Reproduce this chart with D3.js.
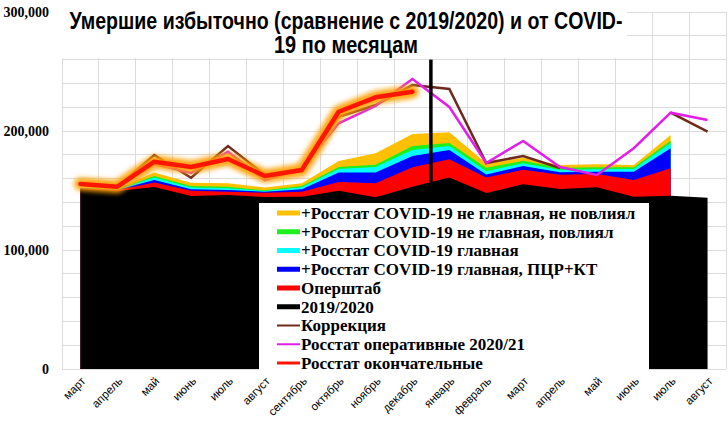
<!DOCTYPE html>
<html><head><meta charset="utf-8">
<script src="https://cdn.jsdelivr.net/npm/d3@7/dist/d3.min.js"></script>
<style>
html,body{margin:0;padding:0;background:#fff;}
svg{display:block;}
</style></head>
<body>
<svg id="chart" width="728" height="425"></svg>
<script>
// ---- data ----
const months = ["март","апрель","май","июнь","июль","август","сентябрь","октябрь","ноябрь","декабрь","январь","февраль","март","апрель","май","июнь","июль","август"];
const yTicks = [0, 100000, 200000, 300000];
const base2019 = [151300,149600,152900,145400,146200,144500,144800,149800,144300,153200,160900,147900,155200,151300,152700,144800,145600,143900];
const opershtab = [400,700,3800,4400,2800,3600,4200,7300,11700,16300,15400,13000,12300,12000,11200,14000,23000,null];
const pcrKt = [100,300,2100,1200,1400,900,2000,8000,9100,9500,7700,2500,3100,2000,1900,7000,16900,null];
const glavnaya = [100,300,2100,1500,1400,600,1700,3000,4600,5000,3400,2800,2300,1900,2000,2300,4200,null];
const povliyal = [100,300,1300,1300,1400,600,1100,1600,2000,3400,2500,2900,2100,1900,1700,1400,2100,null];
const nePovliyal = [200,400,2900,2700,2800,2300,2200,5100,9600,10100,9100,3800,2500,2300,2500,1900,4800,null];
const korrekciya = [155500,152900,179800,160700,187400,163000,168100,212000,221800,238600,235300,173100,179000,168900,null,null,215400,199400];
const operativnye = [155500,152900,172300,164700,182600,158800,168100,206500,221000,243700,220200,173100,191600,169700,163000,185500,215400,209200];
const okonchatelnye = [155500,153200,174200,169700,176500,162200,167200,216200,228300,233000,null,null,null,null,null,null,null,null];
const dividerAfter = 9;              // line between декабрь and январь
const dividerRange = [156300, 260000];
const titleLines = ["Умершие избыточно (сравнение с 2019/2020) и от COVID-", "19 по месяцам"];

const layerNames = ["2019/2020","Оперштаб","+Росстат COVID-19 главная, ПЦР+КТ","+Росстат COVID-19 главная","+Росстат COVID-19 не главная, повлиял","+Росстат COVID-19 не главная, не повлиял"];
const layerData = [base2019, opershtab, pcrKt, glavnaya, povliyal, nePovliyal];
const layerColors = ["#000000","#FF0000","#0000FF","#00FFFF","#1EEF1E","#FFC000"];

// ---- layout ----
const svg = d3.select("#chart");
const L = 62, R = 726, T = 12, B = 369;
const x = d3.scaleBand().domain(d3.range(months.length)).range([L, R]).paddingInner(0).paddingOuter(0);
const cx = i => x(i) + x.bandwidth()/2;
const y = d3.scaleLinear().domain([0, 300000]).range([B, T]);

// grid
const gridColor = "#DCDCDC";
svg.append("g").selectAll("line").data(d3.range(0, 300001, 20000)).join("line")
  .attr("x1", L).attr("x2", R).attr("y1", d => y(d)).attr("y2", d => y(d))
  .attr("stroke", gridColor).attr("stroke-width", 1).attr("shape-rendering","crispEdges");
svg.append("g").selectAll("line").data(d3.range(months.length + 1)).join("line")
  .attr("x1", i => i < months.length ? x(i) : R).attr("x2", i => i < months.length ? x(i) : R)
  .attr("y1", T).attr("y2", B)
  .attr("stroke", gridColor).attr("stroke-width", 1).attr("shape-rendering","crispEdges");

// stacked areas
const rows = months.map((m, i) => {
  const o = {i};
  layerNames.forEach((n, k) => o[n] = layerData[k][i] == null ? 0 : layerData[k][i]);
  o.defined = layerData[1][i] != null;
  return o;
});
const series = d3.stack().keys(layerNames)(rows);
for (let k = series.length - 1; k >= 0; k--) {
  const area = d3.area()
    .defined(d => k === 0 || d.data.defined)
    .x(d => cx(d.data.i)).y0(y(0)).y1(d => y(d[1]));
  svg.append("path").datum(series[k]).attr("d", area).attr("fill", layerColors[k]);
}

// lines
const lineGen = arr => d3.line().defined(d => d != null).x((d, i) => cx(i)).y(d => y(d))(arr);
const defs = svg.append("defs");
const f = defs.append("filter").attr("id","glow").attr("x","-10%").attr("y","-20%").attr("width","120%").attr("height","140%");
f.append("feGaussianBlur").attr("stdDeviation", 2.4);

svg.append("path").attr("d", lineGen(korrekciya)).attr("fill","none").attr("stroke","#6E2A1C").attr("stroke-width",2.5);
svg.append("path").attr("d", lineGen(operativnye)).attr("fill","none").attr("stroke","#E21FE6").attr("stroke-width",2.5);
svg.append("path").attr("d", lineGen(okonchatelnye)).attr("fill","none").attr("stroke","#FFA000").attr("stroke-width",13).attr("stroke-linecap","round").attr("stroke-linejoin","round").attr("filter","url(#glow)").attr("opacity",0.95);
svg.append("path").attr("d", lineGen(okonchatelnye)).attr("fill","none").attr("stroke","#FF1500").attr("stroke-width",4.5).attr("stroke-linecap","round").attr("stroke-linejoin","round");

// divider
svg.append("line").attr("x1", x(dividerAfter + 1)).attr("x2", x(dividerAfter + 1))
  .attr("y1", y(dividerRange[1])).attr("y2", y(dividerRange[0]))
  .attr("stroke","#000").attr("stroke-width",3.5);

// title box
svg.append("rect").attr("x", L).attr("y", 0).attr("width", 565).attr("height", 58).attr("fill","#fff");
const titleWidths = [553, 144];
svg.append("text").attr("text-anchor","middle")
  .style("font-family","'Liberation Sans',Arial,sans-serif")
  .style("font-weight","bold").style("font-size","23px").attr("fill","#000")
  .selectAll("tspan").data(titleLines).join("tspan")
  .attr("x", 346).attr("y", (d, i) => i === 0 ? 29 : 53)
  .attr("textLength", (d, i) => titleWidths[i]).attr("lengthAdjust","spacingAndGlyphs")
  .text(d => d);

// y axis labels
svg.append("g").selectAll("text").data(yTicks).join("text")
  .attr("x", 49).attr("y", d => y(d)).attr("dy","0.35em").attr("text-anchor","end")
  .style("font-family","'Liberation Serif','Times New Roman',serif").style("font-weight","bold").style("font-size","14px")
  .text(d => d3.format(",")(d));

// x axis labels
svg.append("g").selectAll("text").data(months).join("text")
  .attr("transform", (d, i) => `translate(${cx(i) + 3},${379}) rotate(-45)`)
  .attr("text-anchor","end").attr("dy","0.35em")
  .style("font-family","'Liberation Sans',Arial,sans-serif").style("font-size","11.5px")
  .text(d => d);

// legend
const legendItems = [
  {name: layerNames[5], color: layerColors[5], type: "rect"},
  {name: layerNames[4], color: layerColors[4], type: "rect"},
  {name: layerNames[3], color: layerColors[3], type: "rect"},
  {name: layerNames[2], color: layerColors[2], type: "rect"},
  {name: layerNames[1], color: layerColors[1], type: "rect"},
  {name: layerNames[0], color: layerColors[0], type: "rect"},
  {name: "Коррекция", color: "#6E2A1C", type: "line", w: 2},
  {name: "Росстат оперативные 2020/21", color: "#E21FE6", type: "line", w: 2},
  {name: "Росстат окончательные", color: "#FF1500", type: "line", w: 3}
];
const lg = svg.append("g");
lg.append("rect").attr("x", 259).attr("y", 203).attr("width", 390).attr("height", 167).attr("fill","#fff");
const rowH = 18.75, y0L = 213;
legendItems.forEach((it, i) => {
  const cy = y0L + i * rowH;
  if (it.type === "rect") {
    lg.append("rect").attr("x", 277).attr("y", cy - 2.5).attr("width", 23).attr("height", 5).attr("fill", it.color);
  } else {
    lg.append("line").attr("x1", 277).attr("x2", 300).attr("y1", cy).attr("y2", cy).attr("stroke", it.color).attr("stroke-width", it.w);
  }
  lg.append("text").attr("x", 301).attr("y", cy).attr("dy","0.35em")
    .style("font-family","'Liberation Serif','Times New Roman',serif").style("font-weight","bold").style("font-size","17px")
    .text(it.name);
});
</script>
</body></html>
